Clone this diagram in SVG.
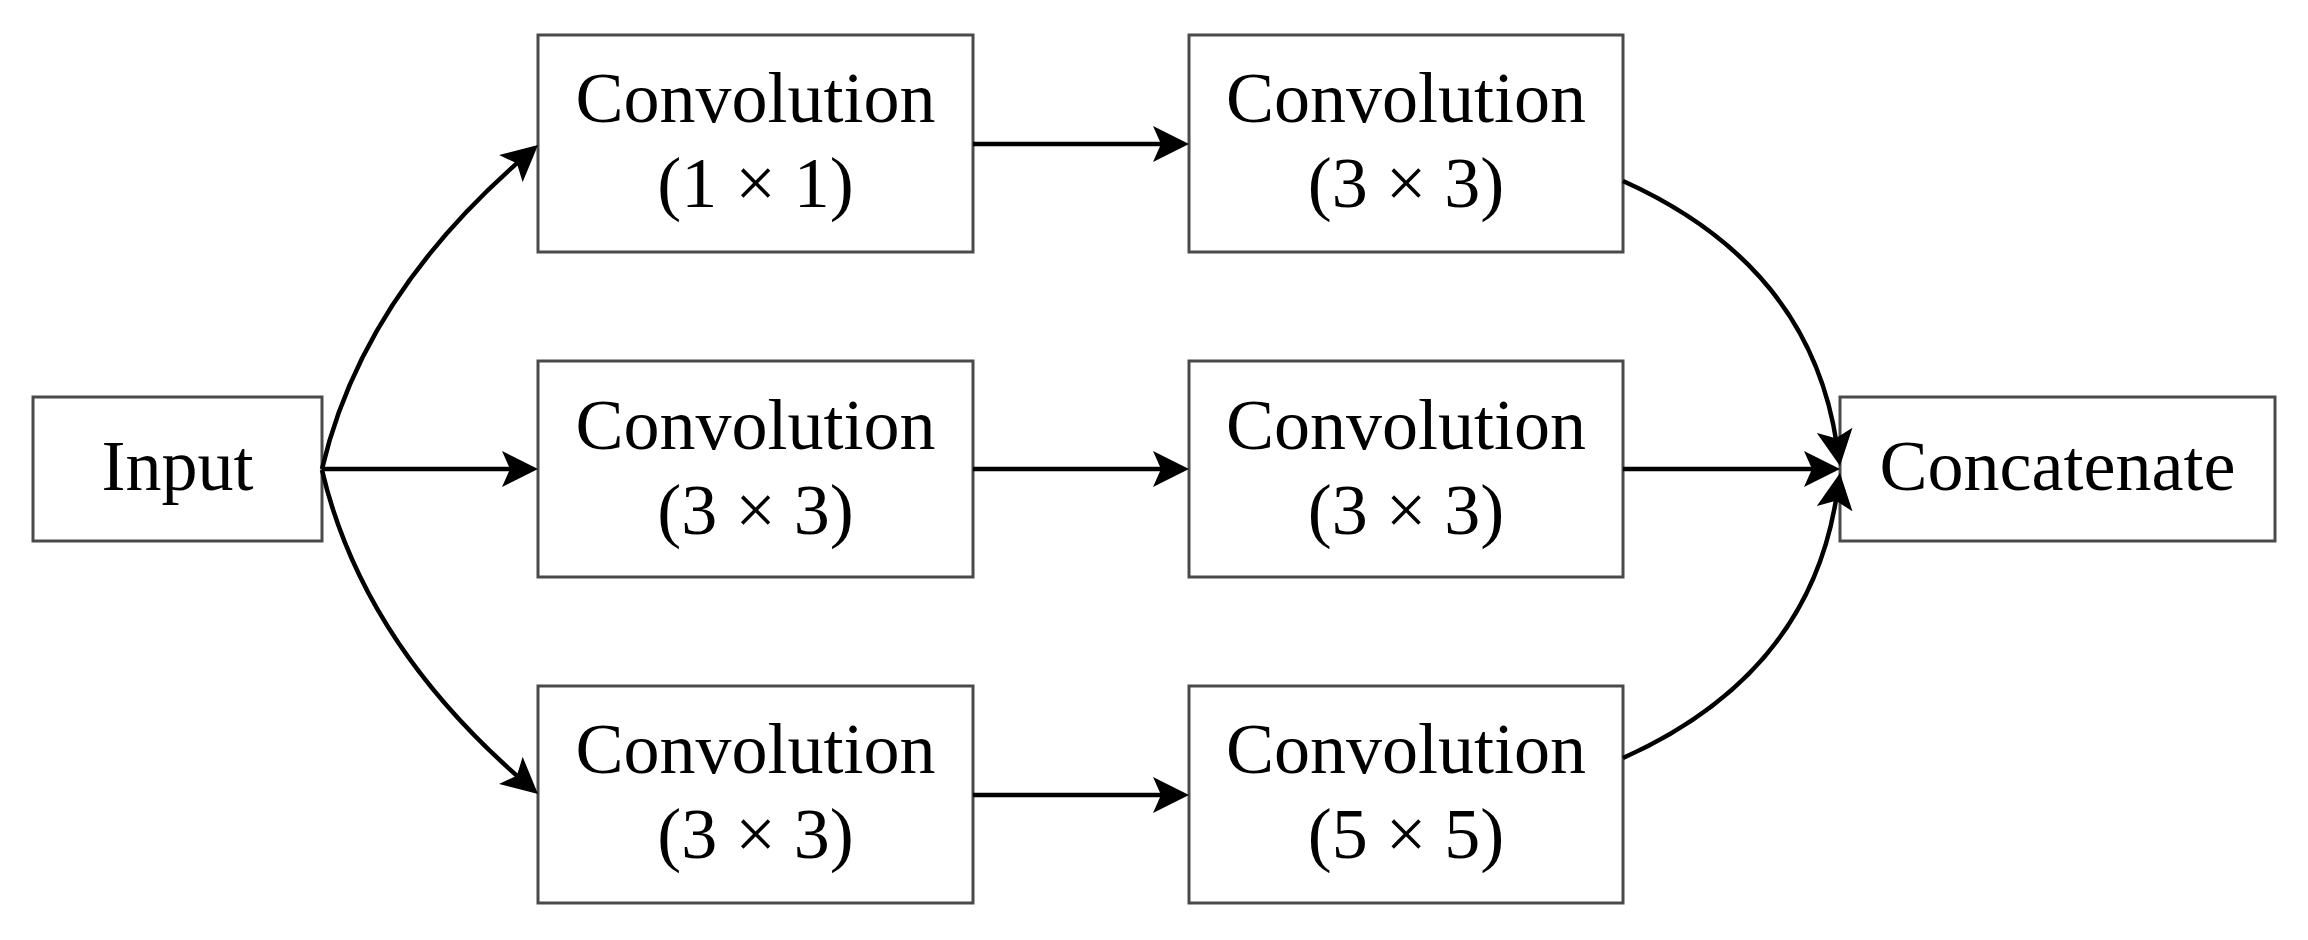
<svg xmlns="http://www.w3.org/2000/svg" width="2308" height="940" viewBox="0 0 2308 940">
<style>
.box{fill:#fff;stroke:#4a4a4a;stroke-width:3}
.lbl{font-family:"Liberation Serif","Times New Roman",serif;font-size:72px;fill:#000;text-anchor:middle}
.conn{fill:none;stroke:#000;stroke-width:4.5;marker-end:url(#arr)}
</style>
<defs>
<marker id="arr" markerUnits="userSpaceOnUse" markerWidth="36" markerHeight="36" viewBox="0 0 36 36" refX="14" refY="18" orient="auto">
<path d="M0,0 L36,18 L0,36 L8,18 z" fill="#000"/>
</marker>
</defs>
<rect width="2308" height="940" fill="#fff"/>
<g id="input"><rect class="box" x="33" y="397" width="289" height="144"/><text class="lbl" x="177.5" y="490">Input</text></g>
<g id="conv_r1c1"><rect class="box" x="538" y="35" width="435" height="217"/><text class="lbl" x="755.5" y="122">Convolution</text><text class="lbl" x="755.5" y="207">(1 × 1)</text></g>
<g id="conv_r2c1"><rect class="box" x="538" y="361" width="435" height="216"/><text class="lbl" x="755.5" y="449">Convolution</text><text class="lbl" x="755.5" y="534">(3 × 3)</text></g>
<g id="conv_r3c1"><rect class="box" x="538" y="686" width="435" height="217"/><text class="lbl" x="755.5" y="773">Convolution</text><text class="lbl" x="755.5" y="858">(3 × 3)</text></g>
<g id="conv_r1c2"><rect class="box" x="1189" y="35" width="434" height="217"/><text class="lbl" x="1406" y="122">Convolution</text><text class="lbl" x="1406" y="207">(3 × 3)</text></g>
<g id="conv_r2c2"><rect class="box" x="1189" y="361" width="434" height="216"/><text class="lbl" x="1406" y="449">Convolution</text><text class="lbl" x="1406" y="534">(3 × 3)</text></g>
<g id="conv_r3c2"><rect class="box" x="1189" y="686" width="434" height="217"/><text class="lbl" x="1406" y="773">Convolution</text><text class="lbl" x="1406" y="858">(5 × 5)</text></g>
<g id="concatenate"><rect class="box" x="1840" y="397" width="435" height="144"/><text class="lbl" x="2057.5" y="490">Concatenate</text></g>
<g id="connectors">
<path class="conn" d="M322,469 Q362,298 521.4,159.4"/>
<path class="conn" d="M322,469 H516"/>
<path class="conn" d="M322,470 Q362,641 521.4,779.6"/>
<path class="conn" d="M973,144 H1167"/>
<path class="conn" d="M973,469 H1167"/>
<path class="conn" d="M973,795 H1167"/>
<path class="conn" d="M1623,181 Q1810,265 1836.75,444.2"/>
<path class="conn" d="M1623,469 H1818"/>
<path class="conn" d="M1623,758 Q1810,674 1836.75,494.8"/>
</g>
</svg>
